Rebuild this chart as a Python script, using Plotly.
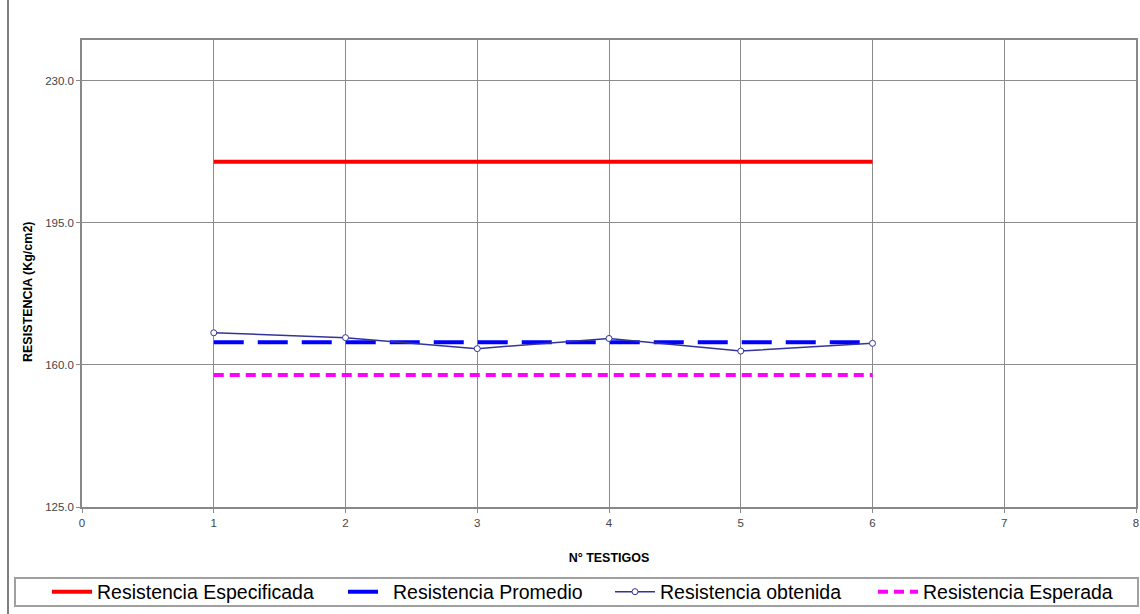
import plotly.graph_objects as go

# Test cores and measured compressive strengths (kg/cm2)
testigos = [1, 2, 3, 4, 5, 6]
resistencia_especificada = [210.0, 210.0, 210.0, 210.0, 210.0, 210.0]
resistencia_promedio = [165.6, 165.6, 165.6, 165.6, 165.6, 165.6]
resistencia_obtenida = [167.9, 166.7, 164.0, 166.5, 163.4, 165.3]
resistencia_esperada = [157.5, 157.5, 157.5, 157.5, 157.5, 157.5]

x_ticks = [0, 1, 2, 3, 4, 5, 6, 7, 8]
y_ticks = [125.0, 160.0, 195.0, 230.0]

W, H = 1140, 614
ML, MR, MT, MB = 82, 4, 40, 107
PLOT_W = W - ML - MR
PLOT_H = H - MT - MB


def px_x(px):
    """Page pixel column -> paper x."""
    return (px - ML) / PLOT_W


def px_y(py):
    """Page pixel row -> paper y."""
    return (H - MB - py) / PLOT_H


fig = go.Figure()

fig.add_trace(go.Scatter(
    x=testigos, y=resistencia_especificada, mode="lines",
    name="Resistencia Especificada", legend="legend",
    line=dict(color="#ff0000", width=4),
))
fig.add_trace(go.Scatter(
    x=testigos, y=resistencia_promedio, mode="lines",
    name="Resistencia Promedio", legend="legend2",
    line=dict(color="#0000ff", width=4, dash="30px,14px"),
))
fig.add_trace(go.Scatter(
    x=testigos, y=resistencia_obtenida, mode="lines+markers",
    name="Resistencia obtenida", legend="legend3",
    line=dict(color="#333399", width=1.5),
    marker=dict(symbol="circle", size=6, color="white",
                line=dict(color="#333399", width=1)),
))
fig.add_trace(go.Scatter(
    x=testigos, y=resistencia_esperada, mode="lines",
    name="Resistencia Esperada", legend="legend4",
    line=dict(color="#ff00ff", width=4, dash="10px,6px"),
))

axis_font = dict(family="Liberation Sans, Arial, sans-serif", size=11.5, color="#444444")
title_font = dict(family="Liberation Sans, Arial, sans-serif", size=12.5, color="#000000")
legend_font = dict(family="Liberation Sans, Arial, sans-serif", size=19.5, color="#000000")


def legend_at(sample_px):
    return dict(
        orientation="h",
        x=px_x(sample_px - 5), xanchor="left",
        y=px_y(592), yanchor="middle",
        borderwidth=0, bgcolor="rgba(0,0,0,0)",
        font=legend_font, itemwidth=40,
    )


fig.update_layout(
    width=W, height=H,
    margin=dict(l=ML, r=MR, t=MT, b=MB, autoexpand=False),
    paper_bgcolor="white", plot_bgcolor="white",
    font=dict(family="Liberation Sans, Arial, sans-serif"),
    xaxis=dict(
        range=[0, 8], tickmode="array", tickvals=x_ticks,
        ticktext=[str(v) for v in x_ticks],
        showgrid=True, gridcolor="#8c8c8c", gridwidth=1,
        showline=True, linecolor="#888888", linewidth=1.5, mirror=True,
        ticks="outside", ticklen=4, tickcolor="#888888",
        tickfont=axis_font, zeroline=False,
        title=dict(text="<b>N° TESTIGOS</b>", font=title_font, standoff=26),
    ),
    yaxis=dict(
        range=[125, 240], tickmode="array", tickvals=y_ticks,
        tickformat=".1f",
        showgrid=True, gridcolor="#8c8c8c", gridwidth=1,
        showline=True, linecolor="#888888", linewidth=1.5, mirror=True,
        ticks="outside", ticklen=4, tickcolor="#888888",
        tickfont=axis_font, zeroline=False,
    ),
    legend=legend_at(52),
    legend2=legend_at(348),
    legend3=legend_at(615),
    legend4=legend_at(878),
    showlegend=True,
)

# Y axis title, placed slightly below the plot's vertical centre
fig.add_annotation(
    text="<b>RESISTENCIA (Kg/cm2)</b>", font=title_font, textangle=-90,
    xref="paper", yref="paper",
    x=px_x(28), y=px_y(292),
    xanchor="center", yanchor="middle", showarrow=False,
)

# Frame around the legend row
fig.add_shape(
    type="rect", xref="paper", yref="paper",
    x0=px_x(15), x1=px_x(1138), y0=px_y(606), y1=px_y(578),
    line=dict(color="#a0a0a0", width=2), fillcolor="rgba(0,0,0,0)",
)

# Chart area frame on the left side
fig.add_shape(
    type="line", xref="paper", yref="paper",
    x0=px_x(8), x1=px_x(8), y0=px_y(H), y1=px_y(0),
    line=dict(color="#555555", width=1.5),
)

fig.write_html("out.html")
